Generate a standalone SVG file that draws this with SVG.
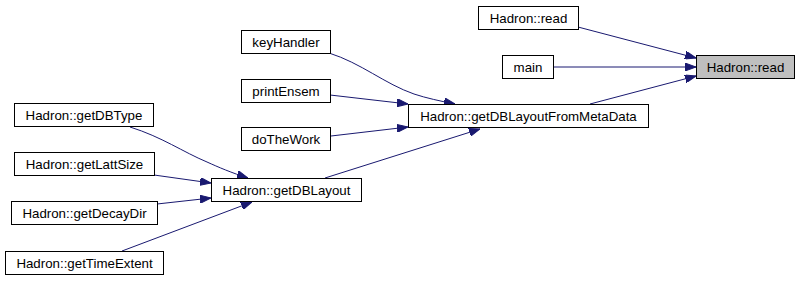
<svg xmlns="http://www.w3.org/2000/svg" width="800" height="281" viewBox="0 0 800 281">
  <style>
    .box { fill: #ffffff; stroke: #000000; stroke-width: 1; }
    .hl { fill: #bfbfbf; stroke: #000000; stroke-width: 1; }
    .lbl { font-family: "Liberation Sans", Arial, sans-serif; font-size: 13.3px; fill: #000000; text-anchor: middle; }
    .edge { fill: none; stroke: #191970; stroke-width: 1; marker-end: url(#arr); }
  </style>
  <defs>
    <marker id="arr" markerUnits="userSpaceOnUse" markerWidth="11" markerHeight="8" refX="11" refY="4" orient="auto">
      <path d="M0,0 L11,4 L0,8 z" fill="#191970" stroke="#191970" stroke-width="1"/>
    </marker>
  </defs>
  <rect width="800" height="281" fill="#ffffff"/>

  <g id="connectors">
    <path class="edge" d="M578,27 L696,58"/>
    <path class="edge" d="M553,67 L696,67"/>
    <path class="edge" d="M590,104 L696,76"/>
    <path class="edge" d="M329,53 C361,63 385,84 414,94 C426,98 440,101 455,104"/>
    <path class="edge" d="M330,95 L408,104"/>
    <path class="edge" d="M331,136 L408,127"/>
    <path class="edge" d="M325,178 L480,129"/>
    <path class="edge" d="M130,127 C162,137 183,152 207,162 C218,167 232,173 248,178"/>
    <path class="edge" d="M154,175 L211,183"/>
    <path class="edge" d="M157,204 L211,198"/>
    <path class="edge" d="M122,251 L252,202"/>
  </g>

  <g id="node-read-caller">
    <rect class="box" x="478.5" y="6.5" width="100" height="23"/>
    <text class="lbl" x="528.5" y="22.5">Hadron::read</text>
  </g>
  <g id="node-main">
    <rect class="box" x="502.5" y="55.5" width="51" height="23"/>
    <text class="lbl" x="528" y="71.5">main</text>
  </g>
  <g id="node-read">
    <rect class="hl" x="696.5" y="55.5" width="98" height="23"/>
    <text class="lbl" x="745.5" y="71.5">Hadron::read</text>
  </g>
  <g id="node-getDBLayoutFromMetaData">
    <rect class="box" x="408.5" y="104.5" width="240" height="23"/>
    <text class="lbl" x="528.5" y="120.5">Hadron::getDBLayoutFromMetaData</text>
  </g>
  <g id="node-keyHandler">
    <rect class="box" x="241.5" y="30.5" width="89" height="23"/>
    <text class="lbl" x="286" y="46.5">keyHandler</text>
  </g>
  <g id="node-printEnsem">
    <rect class="box" x="241.5" y="79.5" width="89" height="23"/>
    <text class="lbl" x="286" y="95.5">printEnsem</text>
  </g>
  <g id="node-doTheWork">
    <rect class="box" x="241.5" y="127.5" width="89" height="23"/>
    <text class="lbl" x="286" y="143.5">doTheWork</text>
  </g>
  <g id="node-getDBLayout">
    <rect class="box" x="211.5" y="178.5" width="150" height="23"/>
    <text class="lbl" x="286.5" y="194.5">Hadron::getDBLayout</text>
  </g>
  <g id="node-getDBType">
    <rect class="box" x="14.5" y="103.5" width="139" height="23"/>
    <text class="lbl" x="84" y="119.5">Hadron::getDBType</text>
  </g>
  <g id="node-getLattSize">
    <rect class="box" x="14.5" y="152.5" width="140" height="23"/>
    <text class="lbl" x="84.5" y="168.5">Hadron::getLattSize</text>
  </g>
  <g id="node-getDecayDir">
    <rect class="box" x="11.5" y="201.5" width="146" height="23"/>
    <text class="lbl" x="84.5" y="217.5">Hadron::getDecayDir</text>
  </g>
  <g id="node-getTimeExtent">
    <rect class="box" x="5.5" y="251.5" width="158" height="23"/>
    <text class="lbl" x="84.5" y="267.5">Hadron::getTimeExtent</text>
  </g>
</svg>
